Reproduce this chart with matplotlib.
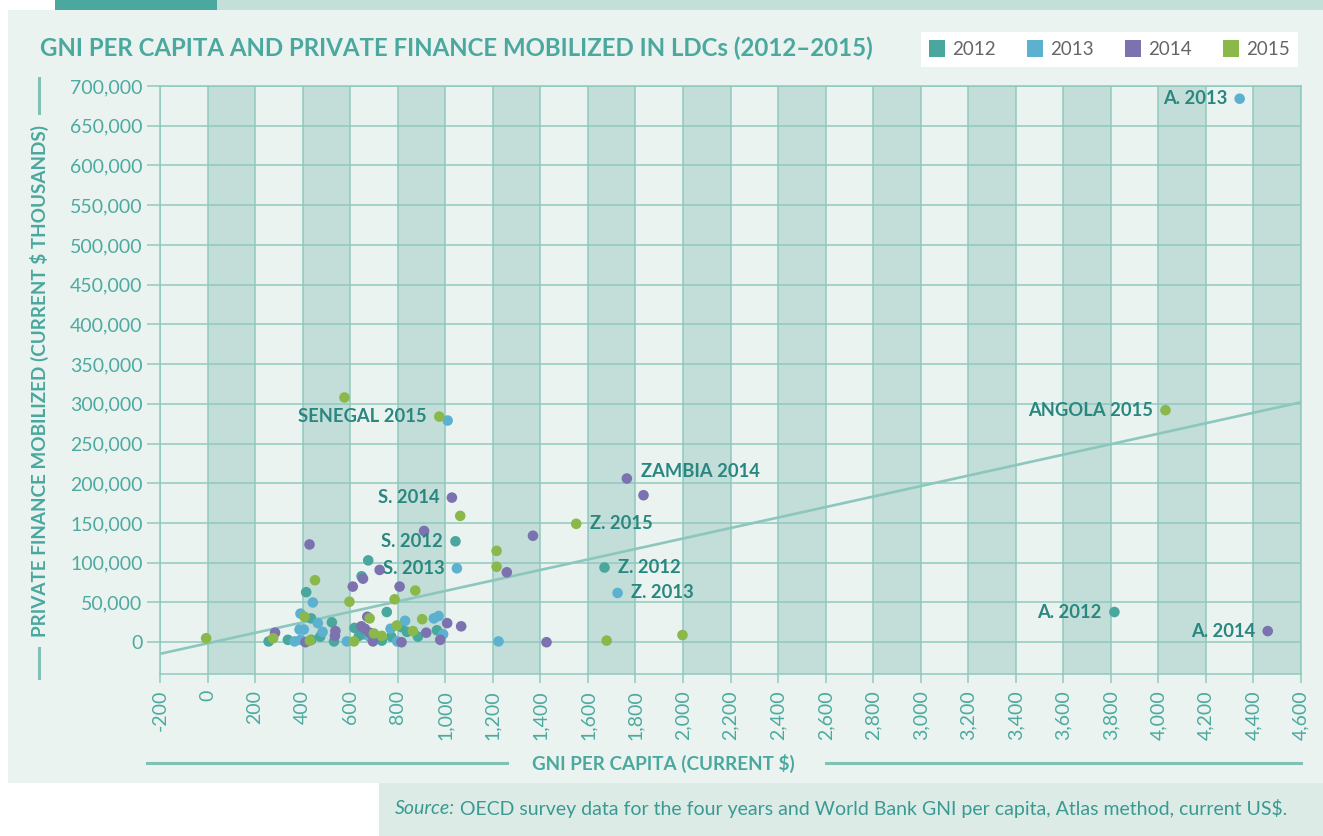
import numpy as np
import matplotlib as mpl
mpl.use("Agg")
import matplotlib.pyplot as plt
from matplotlib.patches import Patch, Rectangle
from matplotlib.lines import Line2D
from matplotlib.ticker import FuncFormatter

# --- palette -----------------------------------------------------------------
TEAL, BLUE, PURPLE, GREEN = "#4AA79D", "#5DB1D0", "#7B72AF", "#8BB84A"
PANEL, BAND, GRID = "#EAF3F0", "#C3DED8", "#90C8BE"
TICK, LABEL, DECO = "#4DAAA0", "#2A8780", "#80C0B5"

plt.rcParams["font.family"] = ["Lato", "DejaVu Sans"]

# --- data: GNI per capita (current $) vs private finance mobilized ($ thousands)
YEARS = ["2012", "2013", "2014", "2015"]
COLORS = [TEAL, BLUE, PURPLE, GREEN]

GNI_2012 = [257, 338, 415, 436, 436, 474, 523, 532, 618, 637, 648, 660, 676,
            733, 754, 773, 815, 839, 885, 965, 1043, 1670, 3815]
PF_2012 = [1000, 3000, 63000, 30000, 3000, 7000, 25000, 1000, 18000, 8000, 83000,
           10000, 103000, 2000, 38000, 7000, 19000, 13000, 7000, 15000, 127000,
           94000, 38000]

GNI_2013 = [366, 391, 387, 405, 391, 443, 464, 484, 586, 682, 770, 798, 831, 952,
            972, 991, 1010, 1049, 1224, 1725, 4342]
PF_2013 = [1000, 3000, 16000, 16000, 36000, 50000, 24000, 13000, 1000, 7000, 17000,
           1000, 27000, 30000, 33000, 10000, 279000, 93000, 1000, 62000, 684000]

GNI_2014 = [284, 412, 429, 538, 536, 611, 654, 647, 662, 672, 682, 696, 724, 808,
            816, 911, 920, 979, 1008, 1028, 1067, 1259, 1369, 1426, 1764, 1834, 4460]
PF_2014 = [12000, 0, 123000, 14000, 8000, 70000, 80000, 20000, 17000, 32000, 12000,
           1000, 91000, 70000, 0, 140000, 12000, 3000, 24000, 182000, 20000, 88000,
           134000, 0, 206000, 185000, 14000]

GNI_2015 = [-6, 276, 408, 430, 452, 576, 597, 616, 682, 700, 733, 787, 796, 864,
            874, 903, 975, 1063, 1216, 1216, 1551, 1679, 1998, 4030]
PF_2015 = [5000, 5000, 32000, 2000, 78000, 308000, 51000, 1000, 30000, 11000, 8000,
           54000, 21000, 14000, 65000, 29000, 284000, 159000, 115000, 95000, 149000,
           2000, 9000, 292000]

SERIES = {"2012": (GNI_2012, PF_2012), "2013": (GNI_2013, PF_2013),
          "2014": (GNI_2014, PF_2014), "2015": (GNI_2015, PF_2015)}

# trend line end points (GNI, finance)
TREND_X = [-200, 4600]
TREND_Y = [-14600, 302000]

# labelled points: text, year, GNI of the point, side of the label
LABELS = [("A. 2013", "2013", 4342, "left"), ("ANGOLA 2015", "2015", 4030, "left"),
          ("ZAMBIA 2014", "2014", 1764, "right"), ("Z. 2015", "2015", 1551, "right"),
          ("Z. 2012", "2012", 1670, "right"), ("Z. 2013", "2013", 1725, "right"),
          ("A. 2012", "2012", 3815, "left"), ("A. 2014", "2014", 4460, "left"),
          ("SENEGAL 2015", "2015", 975, "left"), ("S. 2014", "2014", 1028, "left"),
          ("S. 2012", "2012", 1043, "left"), ("S. 2013", "2013", 1049, "left")]

TITLE = "GNI PER CAPITA AND PRIVATE FINANCE MOBILIZED IN LDCs (2012\u20132015)"
XLABEL = "GNI PER CAPITA (CURRENT $)"
YLABEL = "PRIVATE FINANCE MOBILIZED (CURRENT $ THOUSANDS)"
SOURCE = (" OECD survey data for the four years and World Bank GNI per capita, "
          "Atlas method, current US$.")

XTICKS = np.arange(-200, 4601, 200)
YTICKS = np.arange(0, 700001, 50000)

# --- figure ---------------------------------------------------------------------
W, H = 1323, 836
fig = plt.figure(figsize=(W / 100, H / 100), dpi=100)
fig.patch.set_facecolor("white")


def fx(px):
    return px / W


def fy(py):
    return 1 - py / H


def rect(x0, y0, x1, y1, color):
    fig.add_artist(Rectangle((fx(x0), fy(y1)), fx(x1) - fx(x0), fy(y0) - fy(y1),
                             transform=fig.transFigure, color=color, lw=0, zorder=-5))


rect(55, 0, 217, 10, "#4BA89E")
rect(217, 0, W, 10, "#C3DFD8")
rect(8, 10, W, 783, PANEL)
rect(379, 783, W, H, "#DDEBE7")

ax = fig.add_axes([fx(160), fy(674), fx(1301) - fx(160), fy(86) - fy(674)])
ax.set_facecolor(PANEL)
ax.set_xlim(-200, 4600)
ax.set_ylim(-40000, 700000)
ax.set_xticks(XTICKS)
ax.set_yticks(YTICKS)
fmt = FuncFormatter(lambda v, p: f"{v:,.0f}")
ax.xaxis.set_major_formatter(fmt)
ax.yaxis.set_major_formatter(fmt)
ax.grid(True, color=GRID, lw=1.1)
ax.set_axisbelow(True)
for s in ax.spines.values():
    s.set_color(GRID)
    s.set_linewidth(1.1)
ax.tick_params(axis="y", length=9.5, width=1.1, color=GRID, labelcolor=TICK,
               labelsize=14, pad=3)
ax.tick_params(axis="x", length=6.5, width=1.1, color=GRID, labelcolor=TICK,
               labelsize=14, pad=5, labelrotation=90)

# alternating shaded bands
for x0 in XTICKS[1:-1:2]:
    ax.axvspan(x0, x0 + 200, color=BAND, lw=0, zorder=0)

ax.plot(TREND_X, TREND_Y, color="#8CC6BC", lw=1.9, zorder=2, solid_capstyle="butt")

for yr, c in zip(YEARS, COLORS):
    gx, pf = SERIES[yr]
    ax.scatter(gx, pf, s=58, color=c, edgecolors="none", zorder=3)

for txt, yr, g, side in LABELS:
    gx, pf = SERIES[yr]
    val = pf[gx.index(g)]
    dx = -9 if side == "left" else 10
    dy = 5 if txt == "ZAMBIA 2014" else 0
    ax.annotate(txt, (g, val), xytext=(dx, dy), textcoords="offset points",
                ha="right" if side == "left" else "left", va="center",
                fontsize=13.2, fontweight="bold", color=LABEL, zorder=4)

# title, axis labels with decorative rules
fig.text(fx(40), fy(48), TITLE, ha="left", va="center", fontsize=17.3,
         fontweight="bold", color="#4BA89E")

fig.text(fx(663), fy(763), XLABEL, ha="center", va="center", fontsize=13.6,
         fontweight="bold", color="#4BA89E")
fig.add_artist(Line2D([fx(147), fx(507)], [fy(763)] * 2, color=DECO, lw=2.2))
fig.add_artist(Line2D([fx(826), fx(1301)], [fy(763)] * 2, color=DECO, lw=2.2))

fig.text(fx(39), fy(381), YLABEL, ha="center", va="center", rotation=90,
         fontsize=13.6, fontweight="bold", color="#4BA89E")
fig.add_artist(Line2D([fx(39)] * 2, [fy(78), fy(113)], color=DECO, lw=2.2))
fig.add_artist(Line2D([fx(39)] * 2, [fy(648), fy(678)], color=DECO, lw=2.2))

# legend
handles = [Patch(facecolor=c, edgecolor="none", label=yr) for yr, c in zip(YEARS, COLORS)]
fig.legend(handles=handles, loc="upper right", bbox_to_anchor=(fx(1298), fy(32)),
           ncol=4, frameon=True, facecolor="white", edgecolor="none", fancybox=False,
           framealpha=1, fontsize=13.5, handlelength=0.85, handleheight=1.0,
           handletextpad=0.35, columnspacing=1.7, borderpad=0.45, borderaxespad=0,
           labelcolor="#666666")

# source line
src = fig.text(fx(1287), fy(808), SOURCE, ha="right", va="center", fontsize=14,
               color="#3A9A92")
fig.canvas.draw()
bb = src.get_window_extent()
fig.text(bb.x0 / W, fy(808), "Source:", ha="right", va="center", fontsize=14,
         style="italic", color="#3A9A92")

fig.savefig("out.png", dpi=100, facecolor="white")
